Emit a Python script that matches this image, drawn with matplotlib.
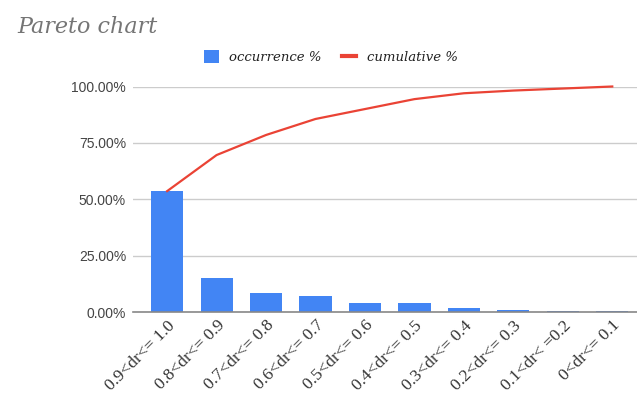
import matplotlib
matplotlib.use("Agg")
import matplotlib.pyplot as plt
from matplotlib.ticker import FuncFormatter
from matplotlib.lines import Line2D
from matplotlib.patches import Patch

categories = ["0.9<dr<= 1.0", "0.8<dr<= 0.9", "0.7<dr<= 0.8", "0.6<dr<= 0.7",
              "0.5<dr<= 0.6", "0.4<dr<= 0.5", "0.3<dr<= 0.4", "0.2<dr<= 0.3",
              "0.1<dr< =0.2", "0<dr<= 0.1"]
occurrence = [53.6, 14.9, 8.4, 7.0, 3.9, 3.9, 1.9, 0.9, 0.5, 0.5]
cumulative = [53.6, 69.6, 78.5, 85.6, 90.0, 94.4, 97.0, 98.2, 99.1, 100.0]
yticks = [0, 25, 50, 75, 100]

fig = plt.figure(figsize=(6.37, 3.96), dpi=100)
ax = fig.add_axes([133/637, 1-312/396, 1-133/637, (312-86.5)/396])

x = list(range(len(categories)))
ax.bar(x, occurrence, width=0.65, color="#4285F4", zorder=2)
ax.plot(x, cumulative, color="#EA4335", lw=1.6, zorder=3, clip_on=False)

ax.set_xlim(-0.69, 9.5)
ax.set_ylim(0, 100)
ax.set_yticks(yticks)
ax.yaxis.set_major_formatter(FuncFormatter(lambda v, p: f"{v:.2f}%"))
ax.grid(axis="y", color="#cccccc", lw=1, zorder=0)
for s in ["top", "right", "left"]:
    ax.spines[s].set_visible(False)
ax.spines["bottom"].set_color("#888888")
ax.spines["bottom"].set_linewidth(1.2)
ax.spines["bottom"].set_zorder(4)
ax.tick_params(axis="y", length=0, pad=5, labelsize=10, labelcolor="#444444")
ax.tick_params(axis="x", length=0, pad=4)
ax.set_xticks(x)
ax.set_xticklabels(categories, rotation=45, ha="right", rotation_mode="anchor",
                   fontsize=12.5, color="#333333", family="Liberation Serif")
for lab in ax.get_yticklabels():
    lab.set_family("Liberation Sans")

fig.text(17/637, 1-33/396, "Pareto chart", fontsize=16, style="italic",
         family="DejaVu Serif", color="#757575", va="baseline")

handles = [Patch(facecolor="#4285F4", edgecolor="none"),
           Line2D([0], [0], color="#EA4335", lw=3)]
leg = fig.legend(handles, ["occurrence %", "cumulative %"], loc="center",
                 bbox_to_anchor=(331/637, 1-57/396), ncol=2, frameon=False,
                 prop={"family": "DejaVu Serif", "style": "italic", "size": 9.5},
                 handlelength=1.1, handleheight=1.1, columnspacing=1.5,
                 handletextpad=0.8)
for t in leg.get_texts():
    t.set_color("#222222")

fig.savefig("out.png", dpi=100)
